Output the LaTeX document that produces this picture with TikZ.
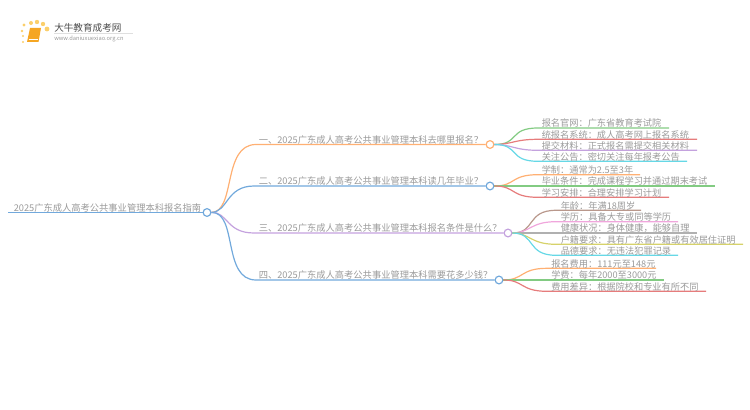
\documentclass[tikz,border=0pt]{standalone}
\usepackage{fontspec}
\setmainfont{Noto Sans CJK SC}
\usepackage{xcolor}
\usetikzlibrary{positioning,calc}
\definecolor{txtgray}{HTML}{9A9A9A}
\definecolor{linorange}{HTML}{FFB073}
\definecolor{linblue}{HTML}{72A9DC}
\definecolor{linpurple}{HTML}{C4A2DE}
\definecolor{lingreen}{HTML}{82CB82}
\definecolor{linred}{HTML}{E67C7C}
\definecolor{lincyan}{HTML}{66D8E6}
\definecolor{linbrown}{HTML}{B9988C}
\definecolor{linpink}{HTML}{F0A6DC}
\definecolor{lingray}{HTML}{B0B0B0}
\definecolor{linolive}{HTML}{D6D26A}
\definecolor{bookorange}{HTML}{F5A623}
\definecolor{dotyellow}{HTML}{FBCF6B}
\tikzset{
  lbl/.style={anchor=south west,inner sep=0.75pt,yshift=-1.1pt,text=txtgray,font=\fontsize{6.95pt}{7pt}\selectfont},
  leaf/.style={lbl,font=\fontsize{6.9pt}{7pt}\selectfont},
  knob/.style={circle,draw,fill=white,line width=0.9pt,minimum size=5.8pt,inner sep=0pt},
  lin/.style={line width=0.9pt},
}
\begin{document}
\begin{tikzpicture}[x=0.75pt,y=0.75pt,yscale=-1,xscale=1]
\useasboundingbox (0,0) rectangle (750,410);

% logo
\fill[dotyellow] (24,25) circle (1.6) (22,31) circle (1.4) (23,36) circle (1.2) (23,42) circle (1.1);
\fill[dotyellow] (31,23) circle (2) (37,22) circle (2.2) (43,24) circle (2.2) (47,29) circle (2.4);
\fill[bookorange] (30,28) -- (41,28) -- (38.5,42) -- (27,42) -- cycle ;
\draw[white,line width=0.4pt] (28.5,39.5) -- (38,39.5);
\fill[lingray!40] (54,33) rectangle (133,33.5);
\node (logoname) [anchor=west,inner sep=0pt,text=black!70,font=\fontsize{7.2pt}{8pt}\selectfont] at (54,27.5) {大牛教育成考网};
\node (logourl) [anchor=west,inner sep=0pt,text=txtgray,font=\fontsize{4.3pt}{5pt}\selectfont] at (54,38.5) {www.daniuxuexiao.org.cn};

% root
\coordinate (rootstart) at (8,212.5);
\node (root) [knob,draw=linblue] at (207,212.5) {};
\draw[lin,linblue] (rootstart) -- (root);
\node (roottxt) [lbl] at (12.5,212) {2025广东成人高考公共事业管理本科报名指南};

% branches
\node (bra) [knob,draw=linorange] at (490,144.5) {};
\node (brb) [knob,draw=linblue] at (490,186) {};
\node (brc) [knob,draw=linpurple] at (508,233) {};
\node (brd) [knob,draw=linblue] at (499,280) {};
\draw[lin,linorange] (root) .. controls (236,212) and (222,144.5) .. (256,144.5) -- (bra);
\draw[lin,linblue] (root) .. controls (228,212) and (226,186) .. (254,186) -- (brb);
\draw[lin,linpurple] (root) .. controls (228,212) and (226,233) .. (254,233) -- (brc);
\draw[lin,linblue] (root) .. controls (238,212) and (222,280) .. (256,280) -- (brd);
\node (bratxt) [lbl] at (257.5,144) {一、2025广东成人高考公共事业管理本科去哪里报名？};
\node (brbtxt) [lbl] at (257.5,185.5) {二、2025广东成人高考公共事业管理本科读几年毕业？};
\node (brctxt) [lbl] at (257.5,232.5) {三、2025广东成人高考公共事业管理本科报名条件是什么？};
\node (brdtxt) [lbl] at (257.5,279.5) {四、2025广东成人高考公共事业管理本科需要花多少钱？};

% leaves of the first branch
\coordinate (enda) at (669,128);
\coordinate (endb) at (697,139.3);
\coordinate (endc) at (697,150.3);
\coordinate (endd) at (687,161.3);
\draw[lin,lingreen] (bra) .. controls (520,144.5) and (508,128) .. (538,128) -- (enda);
\draw[lin,linred] (bra) .. controls (512,144.5) and (514,139.3) .. (538,139.3) -- (endb);
\draw[lin,linpurple] (bra) .. controls (512,144.5) and (514,150.3) .. (538,150.3) -- (endc);
\draw[lin,lincyan] (bra) .. controls (520,144.5) and (508,161.3) .. (538,161.3) -- (endd);
\node (txta) [leaf] at (540.5,127.5) {报名官网：广东省教育考试院};
\node (txtb) [leaf] at (540.5,138.8) {统报名系统：成人高考网上报名系统};
\node (txtc) [leaf] at (540.5,149.8) {提交材料：正式报名需提交相关材料};
\node (txtd) [leaf] at (540.5,160.8) {关注公告：密切关注每年报考公告};

% leaves of the second branch
\coordinate (ende) at (640,174.7);
\coordinate (endf) at (715,186);
\coordinate (endg) at (669,197.3);
\draw[lin,linorange] (brb) .. controls (516,186) and (510,174.7) .. (538,174.7) -- (ende);
\draw[lin,lingreen] (brb) -- (endf);
\draw[lin,linred] (brb) .. controls (516,186) and (510,197.3) .. (538,197.3) -- (endg);
\node (txte) [leaf] at (540.5,174.2) {学制：通常为2.5至3年};
\node (txtf) [leaf] at (540.5,185.5) {毕业条件：完成课程学习并通过期末考试};
\node (txtg) [leaf] at (540.5,196.8) {学习安排：合理安排学习计划};

% leaves of the third branch
\coordinate (endh) at (641,210.3);
\coordinate (endi) at (678,221.7);
\coordinate (endj) at (697,233);
\coordinate (endk) at (743,244.3);
\coordinate (endl) at (678,255.3);
\draw[lin,linbrown] (brc) .. controls (536,233) and (526,210.3) .. (556,210.3) -- (endh);
\draw[lin,linpink] (brc) .. controls (530,233) and (530,221.7) .. (556,221.7) -- (endi);
\draw[lin,lingray] (brc) -- (endj);
\draw[lin,linolive] (brc) .. controls (530,233) and (530,244.3) .. (556,244.3) -- (endk);
\draw[lin,lincyan] (brc) .. controls (536,233) and (526,255.3) .. (556,255.3) -- (endl);
\node (txth) [leaf] at (559.5,209.8) {年龄：年满18周岁};
\node (txti) [leaf] at (559.5,221.2) {学历：具备大专或同等学历};
\node (txtj) [leaf] at (559.5,232.5) {健康状况：身体健康，能够自理};
\node (txtk) [leaf] at (559.5,243.8) {户籍要求：具有广东省户籍或有效居住证明};
\node (txtl) [leaf] at (559.5,254.8) {品德要求：无违法犯罪记录};

% leaves of the fourth branch
\coordinate (endm) at (656,268.3);
\coordinate (endn) at (664,280);
\coordinate (endo) at (706,291.3);
\draw[lin,linorange] (brd) .. controls (524,280) and (520,268.3) .. (547,268.3) -- (endm);
\draw[lin,lingreen] (brd) -- (endn);
\draw[lin,linred] (brd) .. controls (524,280) and (520,291.3) .. (547,291.3) -- (endo);
\node (txtm) [leaf] at (550,267.8) {报名费用：111元至148元};
\node (txtn) [leaf] at (550,279.5) {学费：每年2000至3000元};
\node (txto) [leaf] at (550,290.8) {费用差异：根据院校和专业有所不同};

\end{tikzpicture}
\end{document}
